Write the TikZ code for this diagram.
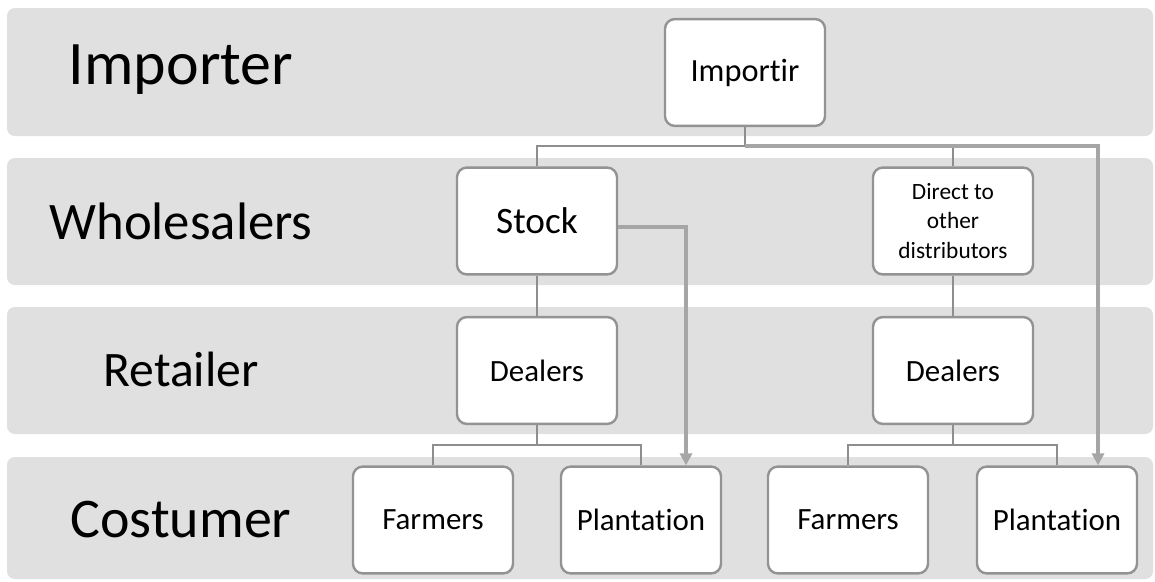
\documentclass[tikz,border=0pt]{standalone}
\usepackage{fontspec}
\setmainfont{Carlito}[Ligatures=NoCommon]
\usetikzlibrary{arrows.meta}
\definecolor{bandgray}{HTML}{E0E0E0}
\definecolor{boxgray}{HTML}{939393}
\definecolor{treegray}{HTML}{8E8E8E}
\definecolor{flowgray}{HTML}{A6A6A6}
\tikzset{
  band/.style={fill=bandgray, rounded corners=5.5pt},
  level/.style={font=\fontsize{#1}{#1}\selectfont},
  unit/.style={draw=boxgray, line width=1.7pt, fill=white, rounded corners=7pt,
    minimum width=4cm, minimum height=2.67cm, inner sep=2pt, align=center,
    font=\fontsize{22}{26}\selectfont},
  tree/.style={draw=treegray, line width=1.4pt},
  flow/.style={draw=flowgray, line width=2.4pt, -{Triangle[length=8.5pt,width=8.5pt]}}
}
\begin{document}
\begin{tikzpicture}[x=0.025cm, y=-0.025cm]
\useasboundingbox (0,0) rectangle (1155,581);
\fill[band] (7,8) rectangle (1153,136);
\fill[band] (7,158) rectangle (1153,285);
\fill[band] (7,307) rectangle (1153,434);
\fill[band] (7,457) rectangle (1153,579);
\node[level=44] (lImp) at (181,70) {Importer};
\node[level=37.5] (lWhole) at (181,221) {Wholesalers};
\node[level=35.3] (lRet) at (181,369) {Retailer};
\node[level=39.8] (lCos) at (181,520) {Costumer};
\node[unit, font=\fontsize{23}{27}\selectfont] (imp) at (745,72.5) {Importir};
\node[unit, font=\fontsize{26.5}{30}\selectfont] (stock) at (537,221) {Stock};
\node[unit, font=\fontsize{16.6}{21.3}\selectfont] (direct) at (953,221) {Direct to\\other\\distributors};
\node[unit] (dealL) at (537,370.5) {Dealers};
\node[unit] (dealR) at (953,370.5) {Dealers};
\node[unit] (farmL) at (433,520) {Farmers};
\node[unit] (plantL) at (641,520) {Plantation};
\node[unit] (farmR) at (848,520) {Farmers};
\node[unit] (plantR) at (1057,520) {Plantation};
\coordinate (jImp) at (745,146);
\coordinate (jL) at (537,445);
\coordinate (jR) at (953,445);
\draw[tree] (imp.south) -- (jImp) -| (stock.north);
\draw[tree] (jImp) -| (direct.north);
\draw[tree] (stock) -- (dealL);
\draw[tree] (direct) -- (dealR);
\draw[tree] (dealL.south) -- (jL) -| (farmL.north);
\draw[tree] (jL) -| (plantL.north);
\draw[tree] (dealR.south) -- (jR) -| (farmR.north);
\draw[tree] (jR) -| (plantR.north);
\draw[flow] ([yshift=-0.15cm]stock.east) -| ([xshift=1.125cm]plantL.north);
\draw[flow] (jImp) -| ([xshift=1.025cm]plantR.north);
\end{tikzpicture}
\end{document}
